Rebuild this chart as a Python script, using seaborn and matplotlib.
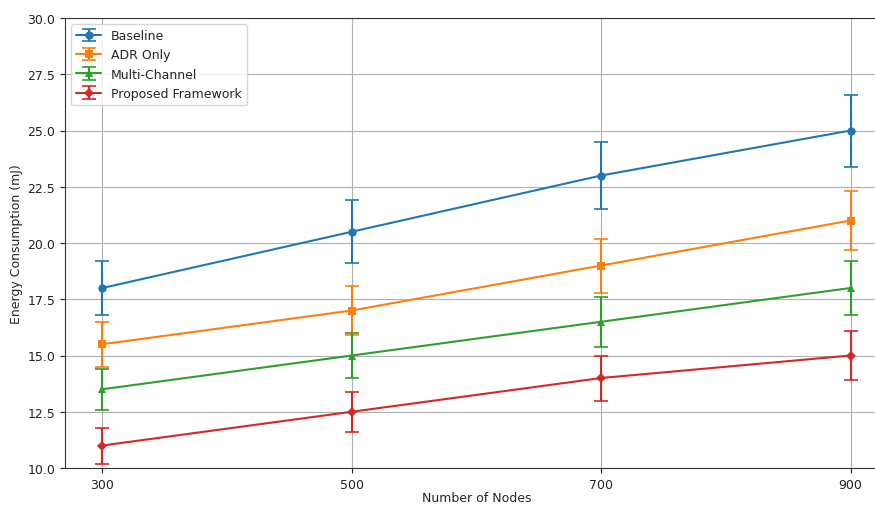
import matplotlib
matplotlib.use("Agg")
import matplotlib.pyplot as plt
import seaborn as sns
import pandas as pd
from matplotlib.legend_handler import HandlerTuple

nodes = [300, 500, 700, 900]
series_names = ["Baseline", "ADR Only", "Multi-Channel", "Proposed Framework"]
baseline = [18.0, 20.5, 23.0, 25.0]
adr_only = [15.5, 17.0, 19.0, 21.0]
multi_channel = [13.5, 15.0, 16.5, 18.0]
proposed = [11.0, 12.5, 14.0, 15.0]
baseline_err = [1.2, 1.4, 1.5, 1.6]
adr_err = [1.0, 1.1, 1.2, 1.3]
multi_err = [0.9, 1.0, 1.1, 1.2]
proposed_err = [0.8, 0.9, 1.0, 1.1]

values = [baseline, adr_only, multi_channel, proposed]
errors = [baseline_err, adr_err, multi_err, proposed_err]
markers = ["o", "s", "^", "D"]
msizes = [6, 6, 6, 5]
colors = sns.color_palette("tab10")[:4]

sns.set_style("white")
plt.rcParams["font.family"] = ["DejaVu Sans"]

fig = plt.figure(figsize=(8.75, 5.06), dpi=100)
ax = fig.add_axes([65 / 875, 1 - 469 / 506, (888 - 65) / 875, (469 - 19) / 506])

handles = []
for name, vals, errs, mk, ms, c in zip(series_names, values, errors, markers, msizes, colors):
    df = pd.DataFrame({"Nodes": nodes, "Energy": vals})
    sns.lineplot(data=df, x="Nodes", y="Energy", ax=ax, color=c, marker=mk,
                 markersize=ms, markeredgewidth=0, linewidth=1.5, legend=False)
    eb = ax.errorbar(nodes, vals, yerr=errs, fmt="none", ecolor=c, capsize=5,
                     elinewidth=1.5, capthick=1.2)
    line = plt.Line2D([], [], color=c, marker=mk, markersize=ms, markeredgewidth=0, linewidth=1.5)
    handles.append((eb, line))

ax.set_xlim(270, 930)
ax.set_ylim(10, 30)
ax.set_xticks(nodes)
ax.set_yticks([10.0, 12.5, 15.0, 17.5, 20.0, 22.5, 25.0, 27.5, 30.0])
ax.set_yticklabels(["10.0", "12.5", "15.0", "17.5", "20.0", "22.5", "25.0", "27.5", "30.0"])
ax.grid(True, color="#b0b0b0", linewidth=0.8)
ax.tick_params(axis="both", direction="out", length=3.5, width=0.8, labelsize=9,
               bottom=True, left=True, colors="#222222")
for s in ax.spines.values():
    s.set_color("#333333")
    s.set_linewidth(0.8)
ax.set_xlabel("Number of Nodes", fontsize=9, labelpad=0)
ax.set_ylabel("Energy Consumption (mJ)", fontsize=9, labelpad=3)
ax.legend(handles, series_names, loc="upper left", fontsize=9,
          handler_map={tuple: HandlerTuple(ndivide=1)}, frameon=True)

fig.savefig("out.png", dpi=100)
